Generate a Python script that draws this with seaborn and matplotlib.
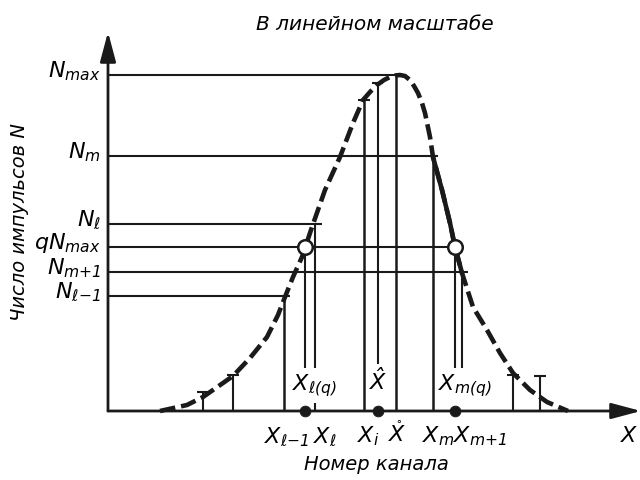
import seaborn as sns
import matplotlib.pyplot as plt

# Peak shape (channel number, counts)
curve_x = [52, 79, 95, 125, 142, 159, 170, 177, 185, 194, 197, 204, 217, 232, 245, 255,
           262, 269, 276, 282, 287, 292, 297, 302, 306, 310, 314, 317, 322, 325, 334,
           342, 347, 354, 365, 379, 392, 405, 422, 439, 460]
curve_y = [0, 6, 14, 35, 53, 74, 96, 114, 134, 154, 163, 184, 221, 254, 288, 311,
           319, 326, 331, 334, 335.5, 336, 335, 331, 325, 318, 308, 298, 274, 254, 221,
           188, 164, 138, 104, 81, 58, 38, 21, 9, 0]
solid_x = [325, 334, 342, 347, 354]
solid_y = [254, 221, 188, 164, 138]

# count levels
level_names = [r"$N_{max}$", r"$N_m$", r"$N_\ell$", r"$qN_{max}$", r"$N_{m{+}1}$", r"$N_{\ell{-}1}$"]
level_vals = [336, 255, 187, 164, 139, 115]
level_ends = [292, 330, 214, 347, 360, 182]

# channels
ch_lm1, ch_lq, ch_l, ch_i, ch_hat, ch_0, ch_m, ch_mq, ch_mp1 = 176, 197, 207, 256, 270, 288, 325, 347, 354
marked_x = [ch_lq, ch_hat, ch_mq]
crossing_x = [ch_lq, ch_mq]
crossing_y = [164, 164]

# small side readings (channel, counts)
side_x = [95, 125, 405, 432]
side_y = [19, 36, 36, 35]

sns.set_theme(style="white")
plt.rcParams["font.family"] = ["DejaVu Sans"]
plt.rcParams["text.color"] = "black"
plt.rcParams["mathtext.fontset"] = "custom"
plt.rcParams["mathtext.it"] = "DejaVu Sans:italic"
plt.rcParams["mathtext.rm"] = "DejaVu Sans:italic"

fig = plt.figure(figsize=(6.4, 4.8), dpi=100)
ax = fig.add_axes([0, 0, 1, 1])
ax.set_xlim(-108, 532)
ax.set_ylim(-69, 411)
ax.axis("off")

# axes with arrows
arr = dict(arrowstyle="-|>,head_length=1.5,head_width=0.4", lw=2.0, color="k",
           shrinkA=0, shrinkB=0)
ax.annotate("", xy=(0, 379), xytext=(0, 0), arrowprops=arr, annotation_clip=False)
ax.annotate("", xy=(533, 0), xytext=(0, 0), arrowprops=arr, annotation_clip=False)

# horizontal level lines
ax.hlines(level_vals, 0, level_ends, color="k", lw=1.5)
for name, v in zip(level_names, level_vals):
    ax.text(-7, v + 4, name, ha="right", va="center", fontsize=16)

# vertical channel lines
ax.vlines([ch_lm1, ch_i, ch_0, ch_m], 0, [115, 311, 336, 254], color="k", lw=1.8)
ax.vlines([ch_lq, ch_l, ch_mq, ch_mp1], 43, [164, 187, 164, 139], color="k", lw=1.5)
ax.vlines(ch_hat, 47, 328, color="k", lw=1.5)
ax.vlines(ch_l, 0, 8, color="k", lw=1.5)
ax.hlines([311, 328], [250, 264], [262, 275], color="k", lw=1.5)

# side readings with caps
ax.vlines(side_x, 0, side_y, color="k", lw=1.5)
ax.hlines(side_y, [x - 6 for x in side_x], [x + 6 for x in side_x], color="k", lw=1.5)

# curve
sns.lineplot(x=curve_x, y=curve_y, sort=False, estimator=None, color="k", lw=3.3, ax=ax)
ax.lines[-1].set_dashes([3.4, 1.3])
sns.lineplot(x=solid_x, y=solid_y, sort=False, estimator=None, color="k", lw=3.3, ax=ax)

# points
sns.scatterplot(x=marked_x, y=[0] * len(marked_x), s=60, color="k", edgecolor="k",
                zorder=5, ax=ax)
sns.scatterplot(x=crossing_x, y=crossing_y, s=110, color="white", edgecolor="k",
                linewidth=1.8, zorder=6, ax=ax)

# labels on the x axis
fs = 16
for x, t in [(156, r"$X_{\ell{-}1}$"), (205, r"$X_\ell$"), (249, r"$X_i$"),
             (280, r"$\mathring{X}$"), (314, r"$X_m$"), (345, r"$X_{m{+}1}$")]:
    ax.text(x, -31, t, ha="left", va="baseline", fontsize=fs)
for x, t in [(184, r"$X_{\ell(q)}$"), (261, r"$\hat{X}$"), (330, r"$X_{m(q)}$")]:
    ax.text(x, 21, t, ha="left", va="baseline", fontsize=fs)
ax.text(512, -31, r"$X$", ha="left", va="baseline", fontsize=fs)

ax.text(267, 386, "В линейном масштабе", ha="center", va="center", fontsize=14.5,
        style="italic")
ax.text(268, -54, "Номер канала", ha="center", va="center", fontsize=14, style="italic")
ax.text(-88, 189, "Число импульсов N", ha="center", va="center", fontsize=14,
        style="italic", rotation=90)

fig.savefig("out.png", dpi=100)
